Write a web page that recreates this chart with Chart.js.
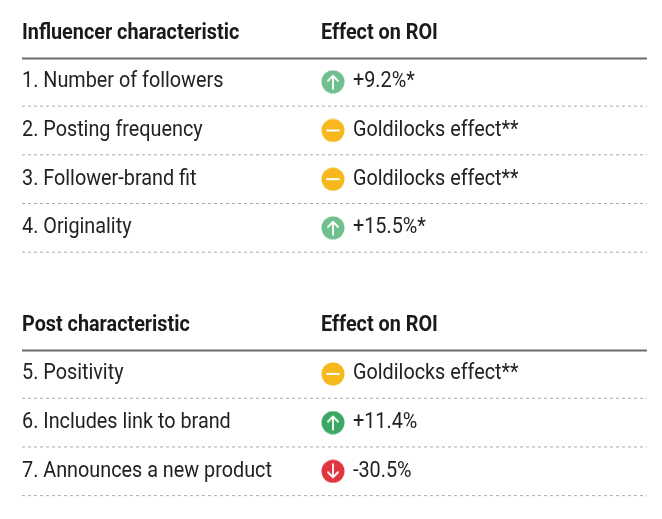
<!DOCTYPE html>
<html>
<head>
<meta charset="utf-8">
<script src="https://cdn.jsdelivr.net/npm/chart.js@4.4.0/dist/chart.umd.min.js"></script>
<style>
  html, body { margin: 0; padding: 0; background: #fff; }
  #wrap { width: 662px; height: 519px; }
</style>
</head>
<body>
<div id="wrap"><canvas id="table-chart"></canvas></div>
<script>
const headers = ["Influencer characteristic", "Post characteristic"];
const headerSlots = [0, 6];
const characteristics = [
  "1. Number of followers", "2. Posting frequency", "3. Follower-brand fit", "4. Originality",
  "5. Positivity", "6. Includes link to brand", "7. Announces a new product"
];
const rowSlots = [1, 2, 3, 4, 7, 8, 9];
const effects = ["+9.2%*", "Goldilocks effect**", "Goldilocks effect**", "+15.5%*",
  "Goldilocks effect**", "+11.4%", "-30.5%"];
const effectKinds = ["upLight", "flat", "flat", "upLight", "flat", "up", "down"];

const FONT = '"Roboto", sans-serif';
const kindColors = { upLight: "#6fc08e", up: "#3aa862", flat: "#f6b81c", down: "#e0353f" };

function makeIcon(kind) {
  const c = document.createElement("canvas");
  c.width = 24; c.height = 24;
  const g = c.getContext("2d");
  g.fillStyle = kindColors[kind];
  g.beginPath(); g.arc(12, 12, 11.5, 0, Math.PI * 2); g.fill();
  g.strokeStyle = "#fff"; g.lineWidth = 1.8; g.lineCap = "round"; g.lineJoin = "round";
  g.beginPath();
  if (kind === "flat") {
    g.moveTo(6, 12); g.lineTo(18, 12);
  } else if (kind === "down") {
    g.moveTo(12, 5); g.lineTo(12, 18);
    g.moveTo(7, 13); g.lineTo(12, 18); g.lineTo(17, 13);
  } else {
    g.moveTo(12, 19); g.lineTo(12, 6);
    g.moveTo(7, 11); g.lineTo(12, 6); g.lineTo(17, 11);
  }
  g.stroke();
  return c;
}

// narrow-ish text: draw scaled horizontally
function narrowText(ctx, text, x, y) {
  ctx.save();
  ctx.translate(x, y);
  ctx.scale(0.9, 1);
  ctx.fillText(text, 0, 0);
  ctx.restore();
}

const tablePlugin = {
  id: "tableText",
  afterDatasetsDraw(chart) {
    const ctx = chart.ctx, xs = chart.scales.x, ys = chart.scales.y;
    const left = xs.getPixelForValue(0), col2 = xs.getPixelForValue(1), right = xs.getPixelForValue(2.09);
    const step = ys.getPixelForValue(1) - ys.getPixelForValue(0);
    ctx.save();
    ctx.textBaseline = "middle";
    headers.forEach((h, i) => {
      const y = ys.getPixelForValue(headerSlots[i]);
      ctx.fillStyle = "#1a1a1a";
      ctx.font = "bold 22px " + FONT;
      narrowText(ctx, h, left, y);
      narrowText(ctx, "Effect on ROI", col2, y);
      ctx.strokeStyle = "#6b6b6b"; ctx.lineWidth = 2; ctx.setLineDash([]);
      ctx.beginPath(); ctx.moveTo(left, y + step * 0.52); ctx.lineTo(right, y + step * 0.52); ctx.stroke();
    });
    characteristics.forEach((t, i) => {
      const y = ys.getPixelForValue(rowSlots[i]);
      ctx.fillStyle = "#222";
      ctx.font = "22px " + FONT;
      narrowText(ctx, t, left, y);
      narrowText(ctx, effects[i], col2 + 32, y);
      ctx.strokeStyle = "#aaa"; ctx.lineWidth = 1; ctx.setLineDash([3, 3]);
      ctx.beginPath(); ctx.moveTo(left, y + step * 0.5); ctx.lineTo(right, y + step * 0.5); ctx.stroke();
    });
    ctx.restore();
  }
};

new Chart(document.getElementById("table-chart"), {
  type: "scatter",
  data: {
    datasets: [{
      data: rowSlots.map(s => ({ x: 1.04, y: s })),
      pointStyle: effectKinds.map(makeIcon),
      pointRadius: 12
    }]
  },
  options: {
    responsive: true, maintainAspectRatio: false, animation: false,
    layout: { padding: 0, autoPadding: false },
    plugins: { legend: { display: false }, tooltip: { enabled: false } },
    scales: {
      x: { type: "linear", display: false, min: -0.0736, max: 2.1405 },
      y: { type: "linear", display: false, reverse: true, min: -0.68, max: 9.98 }
    }
  },
  plugins: [tablePlugin]
});
</script>
</body>
</html>
